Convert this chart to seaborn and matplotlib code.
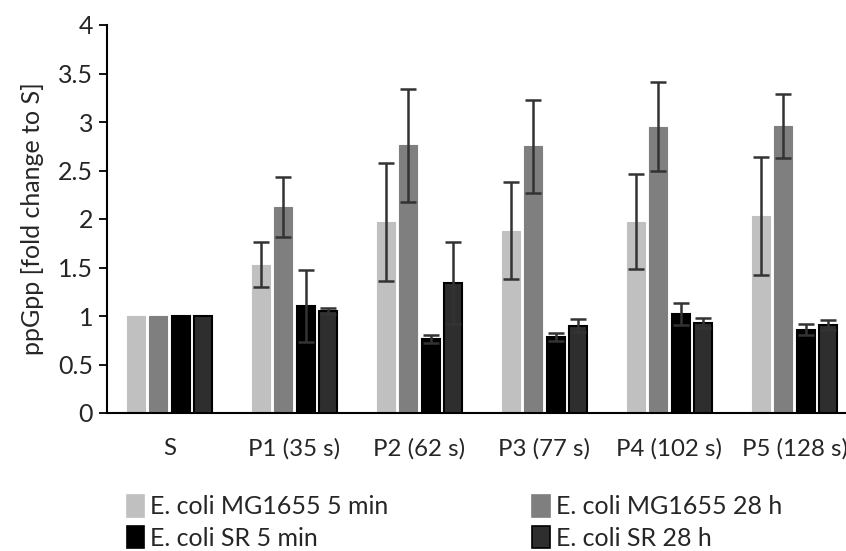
import numpy as np
import pandas as pd
import matplotlib
matplotlib.use("Agg")
import matplotlib.pyplot as plt
import seaborn as sns
from matplotlib.patches import Patch

categories = ["S", "P1 (35 s)", "P2 (62 s)", "P3 (77 s)", "P4 (102 s)", "P5 (128 s)"]
series = ["E. coli MG1655 5 min", "E. coli MG1655 28 h", "E. coli SR 5 min", "E. coli SR 28 h"]
mg_5min = [1.00, 1.53, 1.97, 1.88, 1.97, 2.03]
mg_28h = [1.00, 2.12, 2.76, 2.75, 2.95, 2.96]
sr_5min = [1.00, 1.10, 0.76, 0.78, 1.02, 0.86]
sr_28h = [1.00, 1.05, 1.34, 0.90, 0.93, 0.91]
mg_5min_err = [0.0, 0.23, 0.61, 0.50, 0.49, 0.61]
mg_28h_err = [0.0, 0.31, 0.58, 0.48, 0.46, 0.33]
sr_5min_err = [0.0, 0.37, 0.04, 0.04, 0.11, 0.06]
sr_28h_err = [0.0, 0.03, 0.42, 0.07, 0.05, 0.05]
colors = ["#c0c0c0", "#7f7f7f", "#000000", "#2e2e2e"]
edges = ["#c0c0c0", "#7f7f7f", "#000000", "#000000"]

vals = [mg_5min, mg_28h, sr_5min, sr_28h]
errs = [mg_5min_err, mg_28h_err, sr_5min_err, sr_28h_err]
rows = []
for s, v, e in zip(series, vals, errs):
    for c, vv, ee in zip(categories, v, e):
        rows.append({"cat": c, "series": s, "value": vv, "err": ee})
df = pd.DataFrame(rows)

sns.set_style("white")
plt.rcParams["font.family"] = ["Lato", "DejaVu Sans"]

fig = plt.figure(figsize=(8.46, 5.51), dpi=100)
ax = fig.add_axes([107 / 846, 1 - 413 / 551, (846 - 107) / 846, (413 - 25) / 551])

sns.barplot(data=df, x="cat", y="value", hue="series", order=categories,
            hue_order=series, palette=colors, errorbar=None, width=0.72, gap=0.2,
            saturation=1, ax=ax, legend=False)

for i, s in enumerate(series):
    cont = ax.containers[i]
    for j, p in enumerate(cont.patches):
        p.set_edgecolor(edges[i])
        p.set_linewidth(1.5 if i >= 2 else 0.8)
        e = errs[i][j]
        if e > 0:
            xc = p.get_x() + p.get_width() / 2
            ax.errorbar(xc, p.get_height(), yerr=e, fmt="none", ecolor="#333333",
                        elinewidth=1.8, capsize=6, capthick=1.8, zorder=5)

ax.set_xlim(-0.5, 5.5 - 11 / 125)
ax.set_ylim(0, 4)
ax.set_yticks([0, 0.5, 1, 1.5, 2, 2.5, 3, 3.5, 4])
ax.set_yticklabels(["0", "0.5", "1", "1.5", "2", "2.5", "3", "3.5", "4"])
ax.set_xlabel("")
ax.set_ylabel("ppGpp [fold change to S]", fontsize=18, labelpad=10)
ax.tick_params(axis="y", which="both", direction="out", length=6, width=1.3,
               labelsize=18, left=True, pad=4, color="black")
ax.tick_params(axis="x", length=0, labelsize=17.3, pad=18)
for sp in ["top", "right"]:
    ax.spines[sp].set_visible(False)
for sp in ["left", "bottom"]:
    ax.spines[sp].set_color("black")
    ax.spines[sp].set_linewidth(1.5)

order = [0, 2, 1, 3]
handles = [Patch(facecolor=colors[i], edgecolor=edges[i], linewidth=1.2) for i in order]
labels = [series[i] for i in order]
leg = fig.legend(handles, labels, loc="lower left", bbox_to_anchor=(114 / 846, -11 / 551),
                 ncol=2, frameon=False, fontsize=18, handlelength=0.7, handleheight=1.0,
                 handletextpad=0.25, columnspacing=5.75, labelspacing=0.3,
                 borderaxespad=0.1)

fig.savefig("out.png", dpi=100)
